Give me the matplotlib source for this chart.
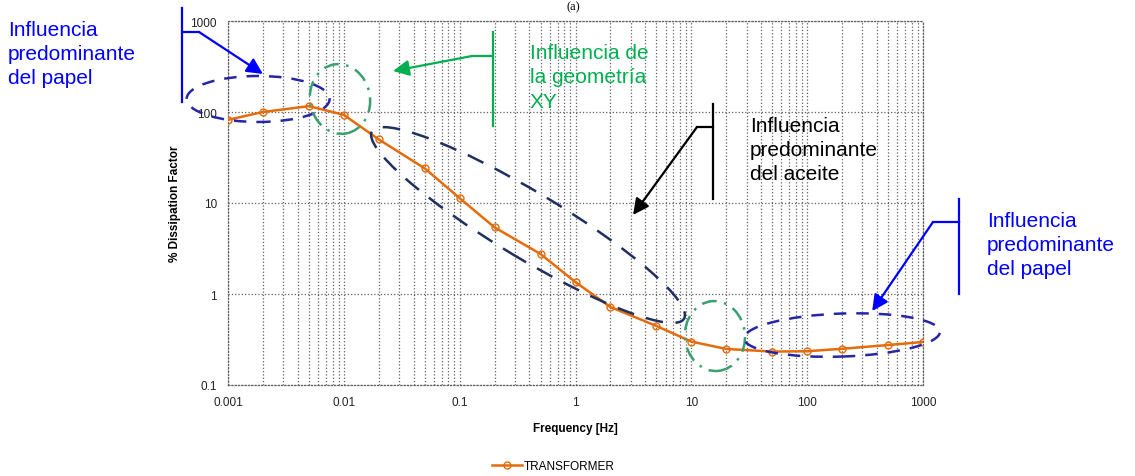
import matplotlib
matplotlib.use("Agg")
import matplotlib.pyplot as plt
from matplotlib.patches import Ellipse
from matplotlib.lines import Line2D
from matplotlib import transforms
from matplotlib.ticker import FixedLocator, LogLocator, FuncFormatter, NullFormatter

# data
freq = [0.001, 0.002, 0.005, 0.01, 0.02, 0.05, 0.1, 0.2, 0.5, 1,
        2, 5, 10, 20, 50, 100, 200, 500, 1000]
dissipation = [82, 100, 116, 93, 50, 24, 11.3, 5.4, 2.75, 1.35,
               0.72, 0.445, 0.30, 0.249, 0.233, 0.235, 0.25, 0.275, 0.297]
series_name = "TRANSFORMER"
x_ticks = [0.001, 0.01, 0.1, 1, 10, 100, 1000]
y_ticks = [0.1, 1, 10, 100, 1000]

# highlighted zones (centre in data units)
zone_centres = [(0.00182, 139), (0.00927, 139), (0.389, 5.73), (16.0, 0.345), (200, 0.354)]
arrow_tips = [(0.002, 262), (0.0266, 282), (3.14, 7.4), (364, 0.65)]

W, H = 1135, 477
ORANGE = "#E46C0A"
BLUE = "#0000FF"
GREEN = "#00B050"
BLACK = "#000000"


def fx(x):
    return x / W


def fy(y):
    return 1 - y / H


fig = plt.figure(figsize=(W / 100, H / 100), dpi=100)
ax = fig.add_axes([fx(228), fy(386), fx(923) - fx(228), fy(22) - fy(386)])

ax.plot(freq, dissipation, color=ORANGE, lw=1.8, marker="o", ms=5,
        mfc="none", mec=ORANGE, mew=1.0, label=series_name, zorder=5)

ax.set_xscale("log")
ax.set_yscale("log")
ax.set_xlim(0.001, 1000)
ax.set_ylim(0.1, 1000)

ax.xaxis.set_major_locator(FixedLocator(x_ticks))
ax.xaxis.set_minor_locator(LogLocator(base=10, subs=range(2, 10), numticks=20))
ax.xaxis.set_minor_formatter(NullFormatter())
ax.yaxis.set_major_locator(FixedLocator(y_ticks))
ax.yaxis.set_minor_locator(FixedLocator([]))
fmt = FuncFormatter(lambda v, p: f"{v:g}")
ax.xaxis.set_major_formatter(fmt)
ax.yaxis.set_major_formatter(fmt)

ax.grid(which="major", axis="x", ls=":", color="#606060", lw=0.9)
ax.grid(which="minor", axis="x", ls=":", color="#606060", lw=0.9)
ax.grid(which="major", axis="y", ls=":", color="#606060", lw=0.9)
for s in ax.spines.values():
    s.set_linestyle(":")
    s.set_color("#606060")
    s.set_linewidth(0.9)

lab_font = ["Liberation Sans Narrow", "Liberation Sans"]
ax.tick_params(which="both", length=0, labelsize=8.5, colors="#222222", pad=8)
for t in ax.get_xticklabels() + ax.get_yticklabels():
    t.set_family(lab_font)
ax.set_xlabel("Frequency [Hz]", fontsize=8.5, fontweight="bold", family=lab_font, labelpad=10)
ax.set_ylabel("% Dissipation Factor", fontsize=8.5, fontweight="bold", family=lab_font, labelpad=7)

fig.legend(loc="center", bbox_to_anchor=(fx(553), fy(467)), frameon=False,
           prop={"family": lab_font, "size": 8.5},
           handlelength=2.6, handletextpad=0.1)

fig.text(fx(573), fy(1), "(a)", ha="center", va="top", fontsize=9, family="Liberation Serif")

# ellipses around the zones, sized in pixels
ell_sizes = [(143, 46, 0), (60, 70, 10), (364, 66, -31), (60, 70, 5), (196, 43, 2)]
ell_colors = ["#2525A5", "#3AA070", "#1F3060", "#3AA070", "#2525A5"]
ell_styles = [(0, (5, 4)), (0, (6, 3, 1, 3)), (0, (7, 5)), (0, (6, 3, 1, 3)), (0, (5, 4))]
fig.canvas.draw()
for c, (w, h, ang), col, st in zip(zone_centres, ell_sizes, ell_colors, ell_styles):
    cx, cy = ax.transData.transform(c)
    e = Ellipse((cx, cy), w, h, angle=ang, fill=False, ec=col, lw=1.8, ls=st,
                transform=transforms.IdentityTransform(), zorder=6)
    fig.add_artist(e)

# callouts: bracket line, knee and arrow
callouts = [
    (BLUE, (182, 9, 103), (182, 33, 199), "Influencia\npredominante\ndel papel", (8, 21)),
    (GREEN, (493, 33, 127), (493, 57, 472), "Influencia de\nla geometría\nXY", (530, 44)),
    (BLACK, (713, 105, 200), (713, 128, 697), "Influencia\npredominante\ndel aceite", (750, 117)),
    (BLUE, (959, 200, 295), (959, 223, 933), "Influencia\npredominante\ndel papel", (987, 212)),
]
for (col, vline, knee, txt, tpos), tip in zip(callouts, arrow_tips):
    x0, y0, y1 = vline
    fig.add_artist(Line2D([fx(x0), fx(x0)], [fy(y0), fy(y1)], color=col, lw=1.6,
                          transform=fig.transFigure))
    kx, ky, kx2 = knee
    fig.add_artist(Line2D([fx(kx), fx(kx2)], [fy(ky), fy(ky)], color=col, lw=1.6,
                          transform=fig.transFigure))
    ax.annotate("", xy=tip, xycoords="data", xytext=(fx(kx2), fy(ky)),
                textcoords="figure fraction", annotation_clip=False,
                arrowprops=dict(arrowstyle="-|>", color=col, lw=1.6,
                                mutation_scale=24, shrinkA=0, shrinkB=0))
    fig.text(fx(tpos[0]), fy(tpos[1]), txt, color=col, fontsize=15,
             family="Liberation Sans", ha="left", va="top", linespacing=1.35)

fig.savefig("out.png", dpi=100)
